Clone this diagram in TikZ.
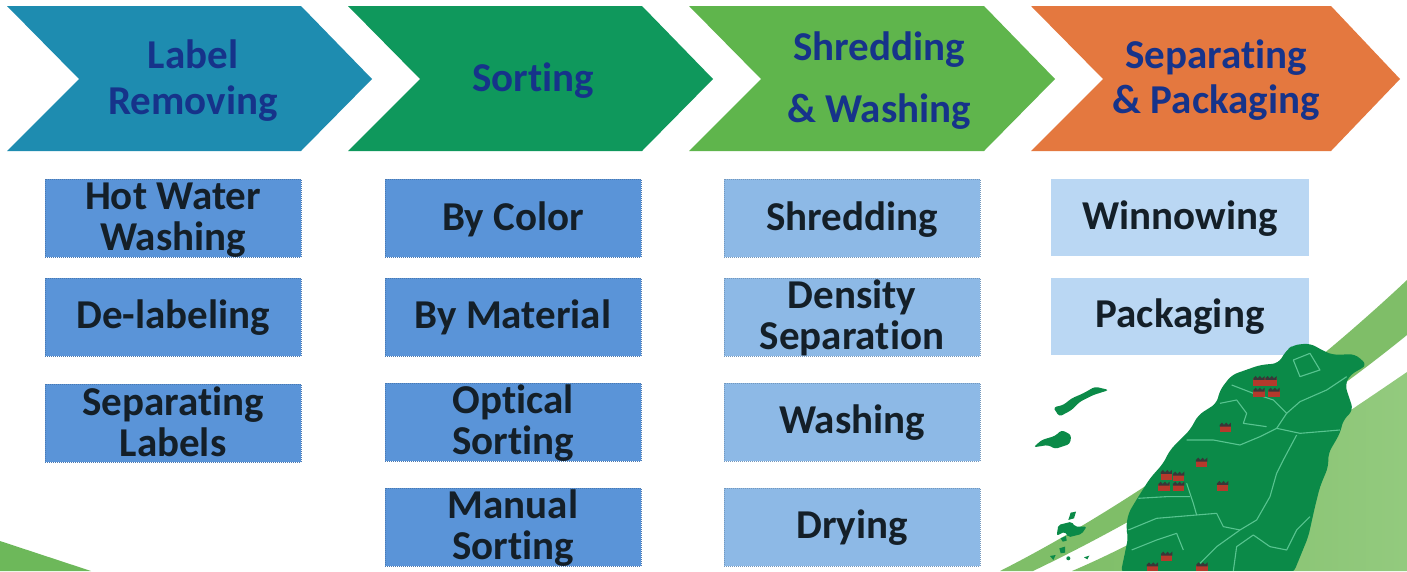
\documentclass[tikz,border=0pt]{standalone}
\usepackage{fontspec}
\setmainfont{Carlito}[BoldFont={Carlito Bold},Ligatures=NoCommon]
\definecolor{chA}{HTML}{1E8CB0}
\definecolor{chB}{HTML}{0F985C}
\definecolor{chC}{HTML}{5FB54C}
\definecolor{chD}{HTML}{E4783F}
\definecolor{bxA}{HTML}{5A94D8}
\definecolor{bxB}{HTML}{8DB9E6}
\definecolor{bxC}{HTML}{BAD7F3}
\definecolor{ttl}{HTML}{16338A}
\definecolor{ink}{HTML}{141F28}
\definecolor{twn}{HTML}{0B8A48}
\definecolor{riv}{HTML}{58C490}
\definecolor{fac}{HTML}{B5392C}
\definecolor{bandA}{HTML}{7FBE68}
\definecolor{bandB}{HTML}{93CA7E}
\definecolor{bandC}{HTML}{6DB85A}
\tikzset{
  chev/.style={fill=#1,draw=none},
  ttlnode/.style={text=ttl,font=\bfseries\fontsize{41}{#1}\selectfont,align=center,inner sep=0pt},
  bx/.style={minimum width=256pt,minimum height=78pt,fill=#1,draw=#1!82!black,densely dotted,line width=1pt,inner sep=0pt},
  bxplain/.style={minimum width=258pt,minimum height=77pt,fill=#1,draw=none,inner sep=0pt},
  bxtxt/.style={text=ink,font=\bfseries\fontsize{41}{41}\selectfont,align=center,inner sep=0pt},
  river/.style={draw=riv,line width=1.1pt,line join=round},
  factory/.pic={
    \fill[fac] (-17,-8) rectangle (17,14);
    \fill[black!78] (-17,-8) -- (-10,-15) -- (-4,-8) -- (3,-15) -- (9,-8) -- (17,-15) -- (17,-3) -- (-17,-3) -- cycle;
  }
}
\begin{document}
\begin{tikzpicture}[x=1pt,y=-1pt]
\useasboundingbox (0,0) rectangle (1407,571);
\fill[white] (0,0) rectangle (1407,571);
% background bands
\fill[bandC] (0,541) -- (91,571) -- (0,571) -- cycle;
\fill[bandA] (1000,571) .. controls (1140,500) and (1290,390) .. (1407,280)
  -- (1407,335) .. controls (1290,430) and (1150,515) .. (1033,571) -- cycle;
\shade[left color=bandA,right color=bandB] (1072,571) .. controls (1180,525) and (1300,445) .. (1407,372)
  -- (1407,571) -- cycle;
% chevrons
\fill[chev=chA] (7,6) -- (301,6) -- (372,79) -- (301,151) -- (7,151) -- (79,79) -- cycle;
\fill[chev=chB] (348,6) -- (642,6) -- (713,79) -- (642,151) -- (348,151) -- (420,79) -- cycle;
\fill[chev=chC] (689,6) -- (984,6) -- (1055,79) -- (984,151) -- (689,151) -- (761,79) -- cycle;
\fill[chev=chD] (1031,6) -- (1331,6) -- (1400,79) -- (1331,151) -- (1031,151) -- (1103,79) -- cycle;
\node[ttlnode=46] (t1) at (193,80.5) {Label\\Removing};
\node[ttlnode=46] (t2) at (533,81) {Sorting};
\node[ttlnode=62] (t3) at (879,80.5) {Shredding\\\& Washing};
\node[ttlnode=45] (t4) at (1216,80) {Separating\\\& Packaging};
% column 1
\node[bx=bxA] (a1) at (173,218) {};
\node[bx=bxA] (a2) at (173,317) {};
\node[bx=bxA] (a3) at (173,423) {};
\node[bxtxt] at (173,220.5) {Hot Water\\Washing};
\node[bxtxt] at (173,318) {De-labeling};
\node[bxtxt] at (173,422) {Separating\\Labels};
% column 2
\node[bx=bxA] (b1) at (513,218) {};
\node[bx=bxA] (b2) at (513,317) {};
\node[bx=bxA] (b3) at (513,422) {};
\node[bx=bxA] (b4) at (513,527) {};
\node[bxtxt] at (513,219) {By Color};
\node[bxtxt] at (513,317) {By Material};
\node[bxtxt] at (513,423) {Optical\\Sorting};
\node[bxtxt] at (513,528) {Manual\\Sorting};
% column 3
\node[bx=bxB] (c1) at (852,218) {};
\node[bx=bxB] (c2) at (852,317) {};
\node[bx=bxB] (c3) at (852,422) {};
\node[bx=bxB] (c4) at (852,527) {};
\node[bxtxt] at (852,220) {Shredding};
\node[bxtxt] at (852,317.5) {Density\\Separation};
\node[bxtxt] at (852,423) {Washing};
\node[bxtxt] at (852,528) {Drying};
% column 4
\node[bxplain=bxC] (d1) at (1180,217.5) {};
\node[bxplain=bxC] (d2) at (1180,316.5) {};
\node[bxtxt] at (1180,219) {Winnowing};
\node[bxtxt] at (1180,317) {Packaging};
% Taiwan
\begin{scope}[shift={(1000,270)},x=0.3333pt,y=-0.3333pt]
\clip (-3000,-810) rectangle (1221,903);
\fill[twn,rounded corners=6pt] (880,225) -- (930,220) -- (975,245) -- (1000,255) -- (1065,252) -- (1102,285) -- (1050,315) -- (1035,345) -- (1060,420) -- (1030,450) -- (1020,490) -- (985,550) -- (985,590) -- (960,650) -- (945,710) -- (925,800) -- (880,910) -- (362,910) -- (385,800) -- (378,775) -- (385,730) -- (415,680) -- (450,625) -- (490,580) -- (510,540) -- (570,480) -- (595,435) -- (650,400) -- (660,360) -- (695,315) -- (780,285) -- (835,280) -- (860,240) -- cycle;
\draw[river] (880,270) -- (930,250) -- (960,300) -- (900,320) -- (880,270);
\draw[river] (695,345) -- (760,370) -- (820,390) -- (860,430) -- (830,475) -- (780,500) -- (720,525) -- (640,510) -- (560,510);
\draw[river] (1040,320) -- (980,360) -- (900,395) -- (860,430);
\draw[river] (660,400) -- (710,390) -- (740,430) -- (730,460) -- (800,470);
\draw[river] (830,475) -- (900,490) -- (1020,480);
\draw[river] (890,495) -- (850,570) -- (830,610) -- (810,680) -- (770,750) -- (720,780) -- (650,830) -- (600,880);
\draw[river] (560,640) -- (580,700) -- (590,735) -- (650,730) -- (670,770) -- (720,780);
\draw[river] (415,685) -- (500,680) -- (570,680);
\draw[river] (385,780) -- (470,745) -- (590,735);
\draw[river] (395,840) -- (470,810) -- (530,790) -- (550,840);
\draw[river] (700,903) -- (710,830) -- (760,795) -- (810,830) -- (860,840) -- (890,780) -- (930,740);
\pic at (777,333) {factory};
\pic at (813,333) {factory};
\pic at (777,368) {factory};
\pic at (822,368) {factory};
\pic at (676,473) {factory};
\pic at (605,578) {factory};
\pic at (499,615) {factory};
\pic at (536,620) {factory};
\pic at (492,650) {factory};
\pic at (536,650) {factory};
\pic at (668,648) {factory};
\pic at (500,860) {factory};
\pic at (457,892) {factory};
\pic at (606,892) {factory};
% islands
\fill[twn,rounded corners=3pt] (160,412) -- (190,405) -- (215,385) -- (250,370) -- (285,350) -- (327,360) -- (280,375) -- (240,395) -- (215,420) -- (178,440) -- (168,425) -- cycle;
\fill[twn,rounded corners=3pt] (100,532) -- (125,510) -- (165,498) -- (185,480) -- (214,495) -- (210,522) -- (165,537) -- (145,525) -- cycle;
\fill[twn] (212,728) -- (228,725) -- (222,745) -- (205,750) -- cycle;
\fill[twn,rounded corners=2pt] (175,765) -- (215,755) -- (225,770) -- (260,770) -- (245,792) -- (205,802) -- (195,785) -- (170,797) -- cycle;
\fill[twn] (182,805) -- (198,798) -- (200,812) -- (188,815) -- cycle;
\fill[twn] (178,835) -- (195,830) -- (195,848) -- (182,850) -- cycle;
\fill[twn] (150,858) -- (167,855) -- (160,870) -- cycle;
\fill[twn] (205,865) circle (6);
\fill[twn] (252,862) -- (268,857) -- (262,868) -- cycle;
\end{scope}
\end{tikzpicture}
\end{document}
